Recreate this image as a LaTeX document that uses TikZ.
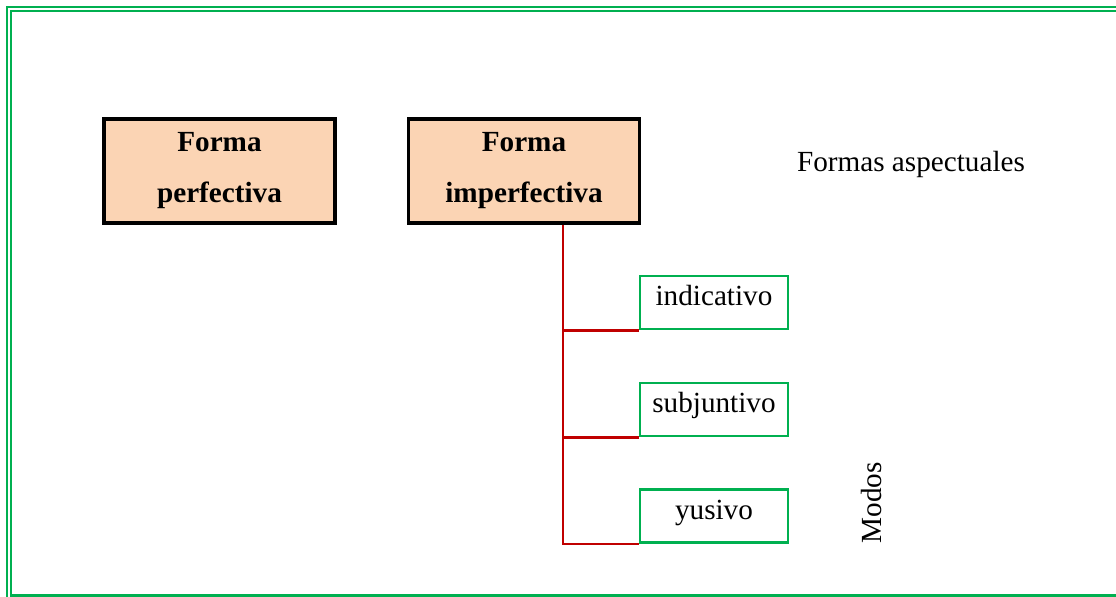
\documentclass[tikz,border=0pt]{standalone}
\usepackage{fontspec}
\setmainfont{Liberation Serif}

\definecolor{framegreen}{RGB}{0,176,80}
\definecolor{branchred}{RGB}{192,0,0}
\definecolor{peach}{RGB}{251,212,180}

\begin{document}
\begin{tikzpicture}[x = .5pt, y = -.5pt,
  every node/.style = {font = \fontsize{14.6}{25.5}\selectfont},
  forma/.style = {draw = black, line width = 1.8pt, fill = peach, minimum width = 115.5pt,
    minimum height = 52pt, align = center, font = \fontsize{14.6}{25.5}\selectfont\bfseries},
  modo/.style = {draw = framegreen, line width = 1.4pt, minimum width = 74pt, inner sep = 0pt,
    text height = 15pt, text depth = 11.5pt},
  branch/.style = {draw = branchred, line width = 1.3pt}]
\useasboundingbox (0, 0) rectangle (1116, 597);

% double frame
\draw [framegreen, line width = 1.3pt] (7, 7) rectangle (1160, 620);
\draw [framegreen, line width = 1.3pt] (11, 11) rectangle (1150, 595.5);

\node [forma] (perf) at (219.5, 171) {Forma\\perfectiva};
\node [forma] (imperf) at (524, 171) {Forma\\imperfectiva};
\node (aspect) at (911, 164) {Formas aspectuales};

\node [modo] (indic) at (714, 302.5) {indicativo};
\node [modo] (subj) at (714, 409.5) {subjuntivo};
\node [modo] (yus) at (714, 516) {yusivo};
\node [rotate = 90] (modos) at (872, 503) {Modos};

\coordinate (trunk) at ([xshift = 19.5pt] imperf.south);
\draw [branch] (trunk) |- (indic.south west);
\draw [branch] (trunk) |- (subj.south west);
\draw [branch] (trunk) |- (yus.south west);
\end{tikzpicture}
\end{document}
